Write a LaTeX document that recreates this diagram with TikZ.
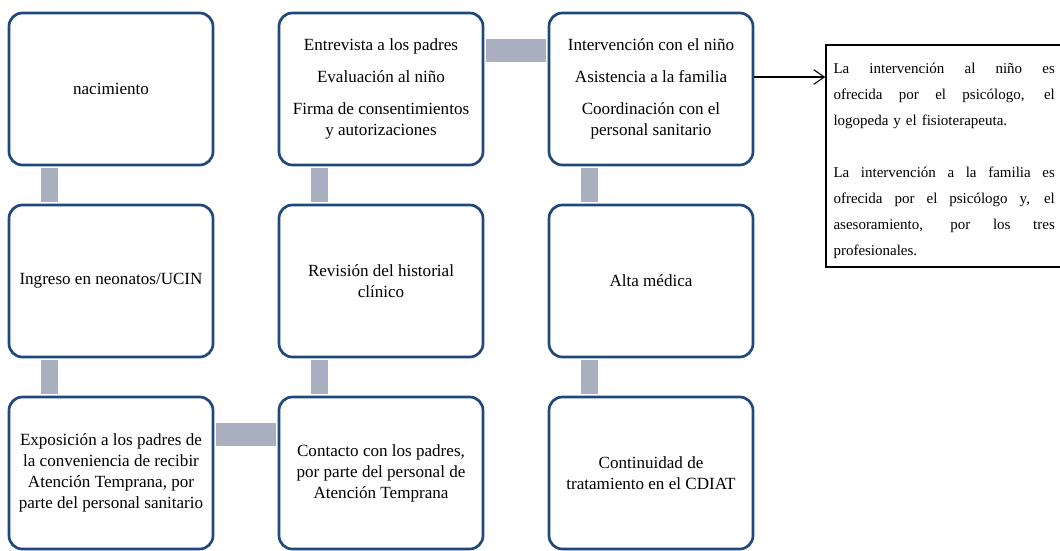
\documentclass[tikz,border=0pt]{standalone}
\usepackage{fontspec}
\setmainfont{Liberation Serif}
\usepackage{tikz}
\usepackage{xcolor}
\usetikzlibrary{arrows.meta}
\definecolor{boxblue}{RGB}{31,73,125}
\definecolor{bargray}{RGB}{169,175,190}
\newcommand{\jline}[1]{\makebox[166pt][s]{\spaceskip=0pt #1}}

\begin{document}
\begin{tikzpicture}[x=0.75pt,y=-0.75pt,
box/.style={rectangle,rounded corners=10pt,draw=boxblue,line width=2pt,fill=white,minimum width=153pt,minimum height=114pt,inner sep=0pt,align=center,font=\fontsize{12.8}{15.75}\selectfont},
vbar/.style={draw=bargray,line width=13pt,shorten <=1pt,shorten >=1pt},
hbar/.style={draw=bargray,line width=17pt,shorten <=1pt,shorten >=1pt},
nota/.style={rectangle,draw=black,line width=1.1pt,minimum width=186.75pt,minimum height=166.5pt,text width=175.5pt,text height=14.5pt,inner xsep=5.625pt,align=left,font=\fontsize{11.25}{19.5}\selectfont},
arrow/.style={-{Straight Barb[length=8pt,width=11pt]},line width=0.8pt}]
\useasboundingbox (0,0) rectangle (1060,550);
\clip (0,0) rectangle (1060,550);
\node (nac) at (111,89) [box] {nacimiento};
\node (ing) at (111,281) [box] {Ingreso en neonatos/UCIN};
\node (expo) at (111,473) [box] {Exposición a los padres de\\la conveniencia de recibir\\Atención Temprana, por\\parte del personal sanitario};
\node (entre) at (381,89) [box] {Entrevista a los padres\\[8pt]Evaluación al niño\\[8pt]Firma de consentimientos\\y autorizaciones};
\node (rev) at (381,281) [box] {Revisión del historial\\clínico};
\node (contac) at (381,473) [box] {Contacto con los padres,\\por parte del personal de\\Atención Temprana};
\node (inter) at (651,89) [box] {Intervención con el niño\\[8pt]Asistencia a la familia\\[8pt]Coordinación con el\\personal sanitario};
\node (alta) at (651,281) [box] {Alta médica};
\node (cont) at (651,473) [box] {Continuidad de\\tratamiento en el CDIAT};
\node (nota) at (950.5,156) [nota] {\jline{La intervención al niño es}\\
\jline{ofrecida por el psicólogo, el}\\
logopeda y el fisioterapeuta.\\[19.5pt]
\jline{La intervención a la familia es}\\
\jline{ofrecida por el psicólogo y, el}\\
\jline{asesoramiento, por los tres}\\
profesionales.};
\draw[vbar] ([xshift=31.5pt]nac.south west) -- ([xshift=31.5pt]ing.north west);
\draw[vbar] ([xshift=31.5pt]ing.south west) -- ([xshift=31.5pt]expo.north west);
\draw[hbar] ([yshift=-29.25pt]expo.north east) -- ([yshift=-29.25pt]contac.north west);
\draw[vbar] ([xshift=31.5pt]contac.north west) -- ([xshift=31.5pt]rev.south west);
\draw[vbar] ([xshift=31.5pt]rev.north west) -- ([xshift=31.5pt]entre.south west);
\draw[hbar] ([yshift=-29.25pt]entre.north east) -- ([yshift=-29.25pt]inter.north west);
\draw[vbar] ([xshift=31.5pt]inter.south west) -- ([xshift=31.5pt]alta.north west);
\draw[vbar] ([xshift=31.5pt]alta.south west) -- ([xshift=31.5pt]cont.north west);
\draw[arrow] ([yshift=9pt]inter.east) coordinate (s) -- (s -| nota.west);
\end{tikzpicture}
\end{document}
